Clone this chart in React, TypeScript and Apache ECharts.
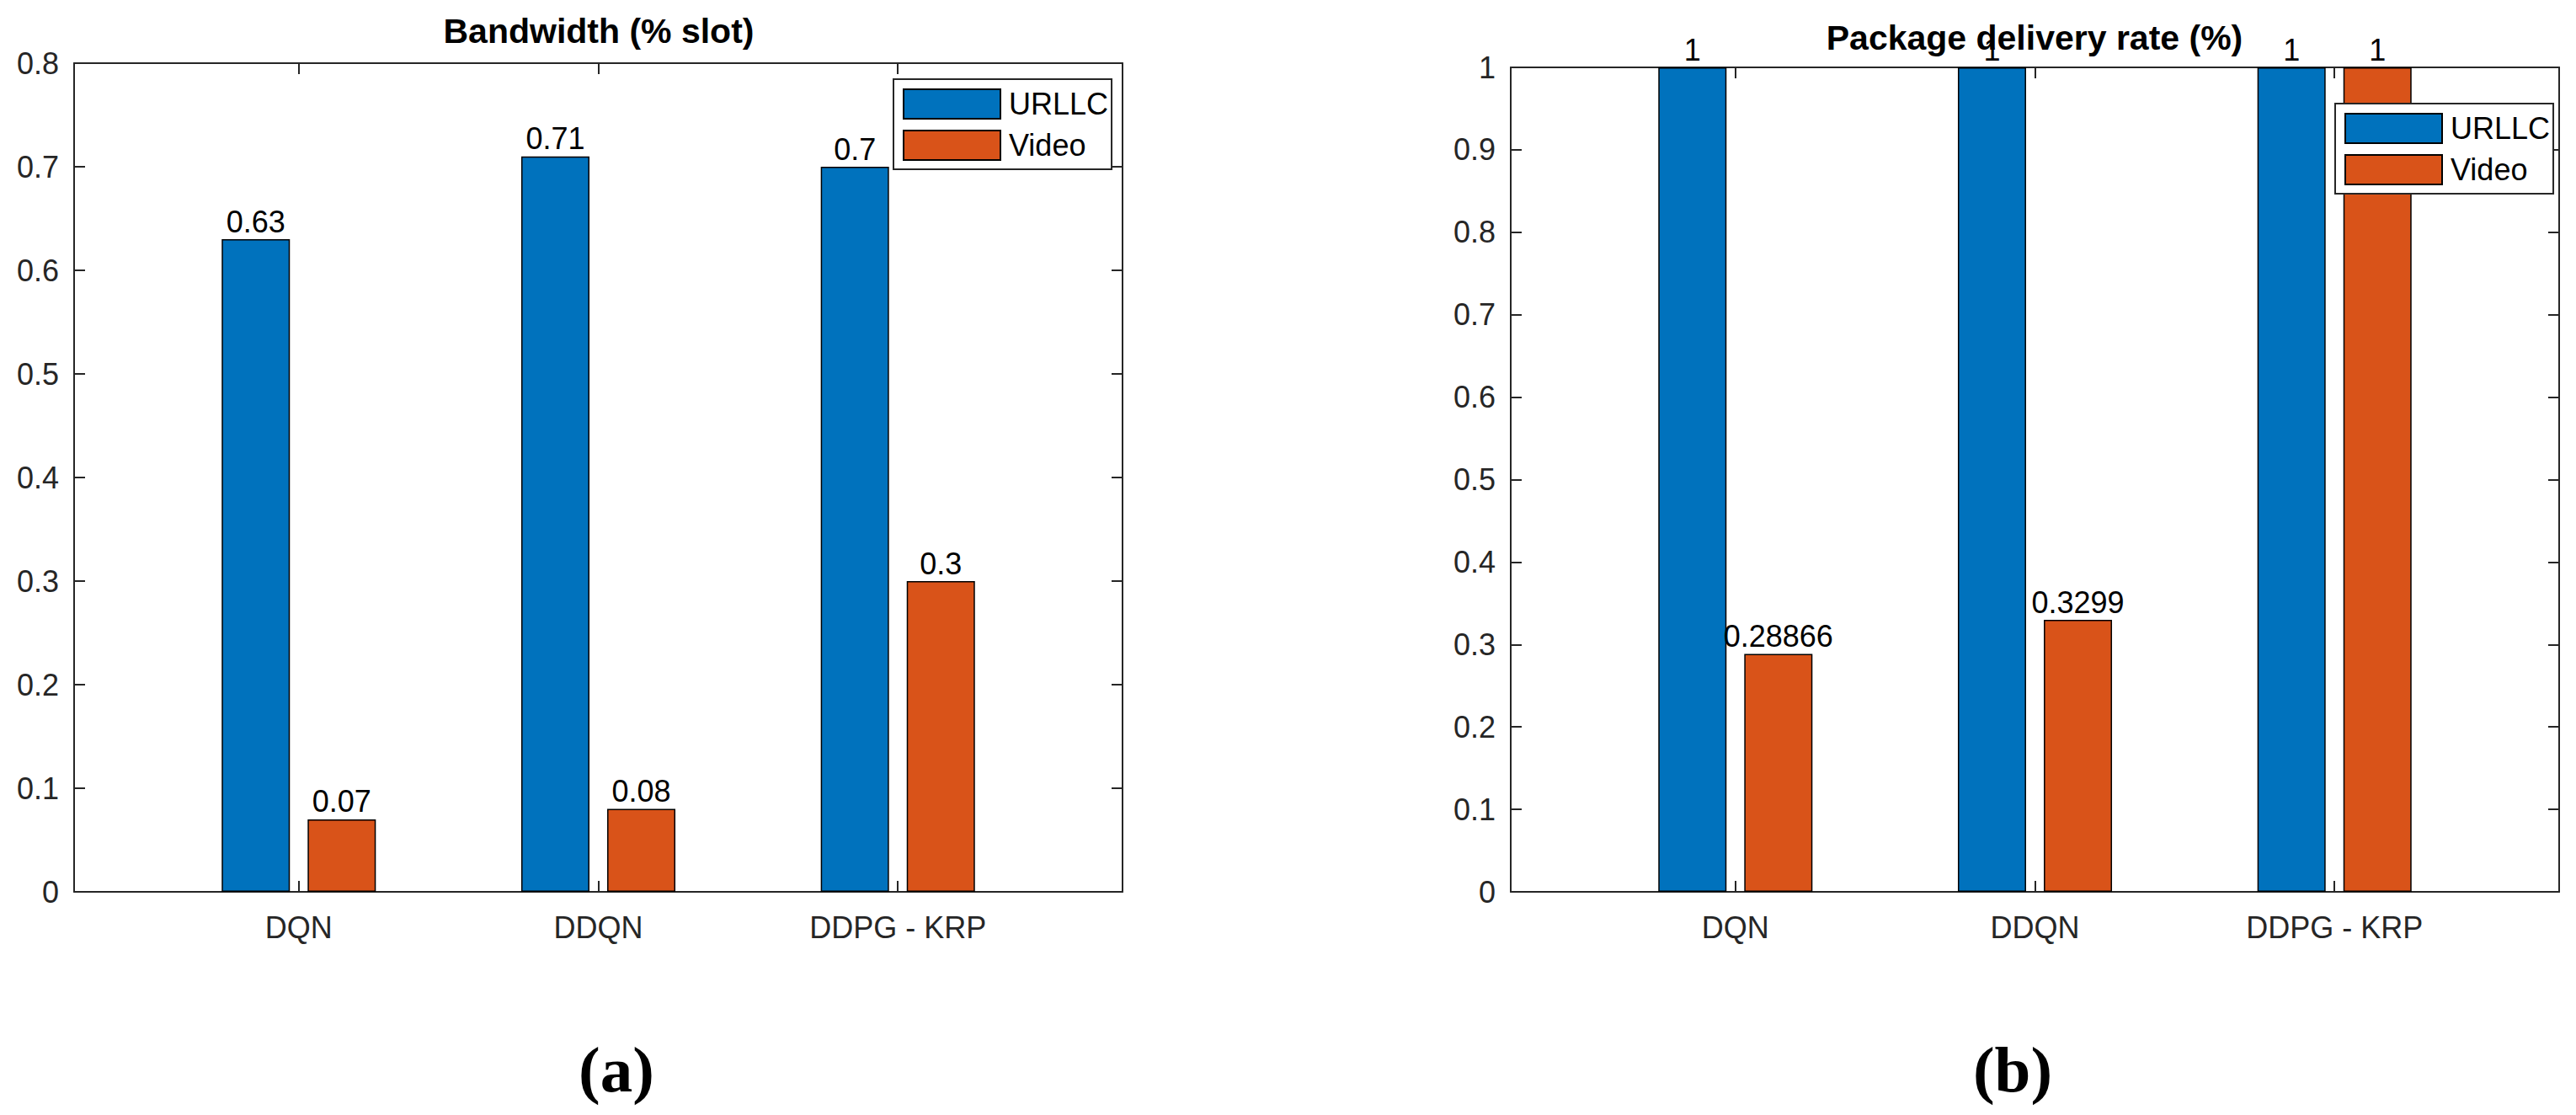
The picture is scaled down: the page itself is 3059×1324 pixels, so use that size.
import React, { useEffect, useRef } from "react";
import * as echarts from "echarts";

const categories = ["DQN", "DDQN", "DDPG - KRP"];
const seriesNames = ["URLLC", "Video"];
const bandwidthURLLC = [0.63, 0.71, 0.7];
const bandwidthVideo = [0.07, 0.08, 0.3];
const deliveryURLLC = [1, 1, 1];
const deliveryVideo = [0.28866, 0.3299, 1];
const bandwidthMax = 0.8;
const deliveryMax = 1;
const tickStep = 0.1;
const titles = ["Bandwidth (% slot)", "Package delivery rate (%)"];
const panelLabels = ["(a)", "(b)"];

const FONT = "'Liberation Sans', Arial, Helvetica, sans-serif";
const AXIS = "#262626";
const BLUE = "#0072BD";
const ORANGE = "#D95319";
const positions = categories.map((_, i) => i + 1);

function xAxes(gridIndex: number) {
  const base = {
    type: "value" as const,
    gridIndex,
    min: 0.25,
    max: 3.75,
    splitLine: { show: false },
    axisLine: { show: true, onZero: false, lineStyle: { color: AXIS, width: 2 } },
    axisTick: { show: true, inside: true, length: 13, customValues: positions, lineStyle: { color: AXIS, width: 2 } },
  };
  return [
    {
      ...base,
      position: "bottom",
      axisLabel: {
        show: true,
        customValues: positions,
        formatter: (v: number) => categories[Math.round(v) - 1] ?? "",
        fontFamily: FONT,
        fontSize: 36,
        color: AXIS,
        margin: 24,
      },
    },
    { ...base, position: "top", axisLabel: { show: false } },
  ];
}

function yAxes(gridIndex: number, max: number) {
  const base = {
    type: "value" as const,
    gridIndex,
    min: 0,
    max,
    interval: tickStep,
    splitLine: { show: false },
    axisLine: { show: true, onZero: false, lineStyle: { color: AXIS, width: 2 } },
    axisTick: { show: true, inside: true, length: 13, lineStyle: { color: AXIS, width: 2 } },
  };
  return [
    {
      ...base,
      position: "left",
      axisLabel: { show: true, fontFamily: FONT, fontSize: 36, color: AXIS, margin: 18 },
    },
    { ...base, position: "right", axisLabel: { show: false } },
  ];
}

function barSeries(name: string, color: string, values: number[], axisOffset: number) {
  return {
    type: "bar",
    name,
    xAxisIndex: axisOffset,
    yAxisIndex: axisOffset,
    barWidth: 81,
    barGap: "26%",
    data: values.map((v, i) => [positions[i], v]),
    itemStyle: { color, borderColor: "#000", borderWidth: 1.5 },
    label: {
      show: true,
      position: "top",
      distance: 3,
      fontFamily: FONT,
      fontSize: 36,
      color: "#000",
      formatter: (p: any) => String(p.value[1]),
    },
  };
}

function legend(left: number, top: number, gridIndex: number) {
  return {
    show: true,
    orient: "vertical",
    left,
    top,
    z: 20,
    data: seriesNames.map((n) => ({ name: n })),
    itemWidth: 115,
    itemHeight: 35,
    itemGap: 12,
    padding: [11, 4, 10, 11],
    borderColor: AXIS,
    borderWidth: 2,
    backgroundColor: "#fff",
    borderRadius: 0,
    icon: "rect",
    selectedMode: false,
    textStyle: { fontFamily: FONT, fontSize: 36, color: "#000", padding: [0, 0, 0, 5] },
    id: "legend" + gridIndex,
  };
}

export default function App() {
  const ref = useRef<HTMLDivElement>(null);
  useEffect(() => {
    document.body.style.margin = "0";
    if (!ref.current) return;
    const chart = echarts.init(ref.current, undefined, { renderer: "svg" });
    const option: any = {
      animation: false,
      backgroundColor: "#fff",
      title: [
        {
          text: titles[0],
          left: 711,
          top: 16,
          textAlign: "center",
          padding: 0,
          textStyle: { fontFamily: FONT, fontSize: 41, fontWeight: "bold", color: "#000" },
        },
        {
          text: titles[1],
          left: 2416,
          top: 24,
          textAlign: "center",
          padding: 0,
          textStyle: { fontFamily: FONT, fontSize: 41, fontWeight: "bold", color: "#000" },
        },
      ],
      grid: [
        { left: 88, top: 75, width: 1245, height: 984, containLabel: false },
        { left: 1794, top: 80, width: 1245, height: 979, containLabel: false },
      ],
      xAxis: [...xAxes(0), ...xAxes(1)],
      yAxis: [...yAxes(0, bandwidthMax), ...yAxes(1, deliveryMax)],
      legend: [legend(1061, 94, 0), legend(2773, 123, 1)],
      series: [
        barSeries(seriesNames[0], BLUE, bandwidthURLLC, 0),
        barSeries(seriesNames[1], ORANGE, bandwidthVideo, 0),
        barSeries(seriesNames[0], BLUE, deliveryURLLC, 2),
        barSeries(seriesNames[1], ORANGE, deliveryVideo, 2),
      ],
      graphic: [
        {
          type: "text",
          x: 732,
          y: 1270,
          style: {
            text: panelLabels[0],
            fontFamily: "'Liberation Serif', 'DejaVu Serif', serif",
            fontWeight: "bold",
            fontSize: 77,
            fill: "#000",
            align: "center",
            verticalAlign: "middle",
          },
        },
        {
          type: "text",
          x: 2390,
          y: 1270,
          style: {
            text: panelLabels[1],
            fontFamily: "'Liberation Serif', 'DejaVu Serif', serif",
            fontWeight: "bold",
            fontSize: 77,
            fill: "#000",
            align: "center",
            verticalAlign: "middle",
          },
        },
      ],
    };
    chart.setOption(option);
    return () => chart.dispose();
  }, []);
  return <div ref={ref} style={{ width: 3059, height: 1324 }} />;
}
